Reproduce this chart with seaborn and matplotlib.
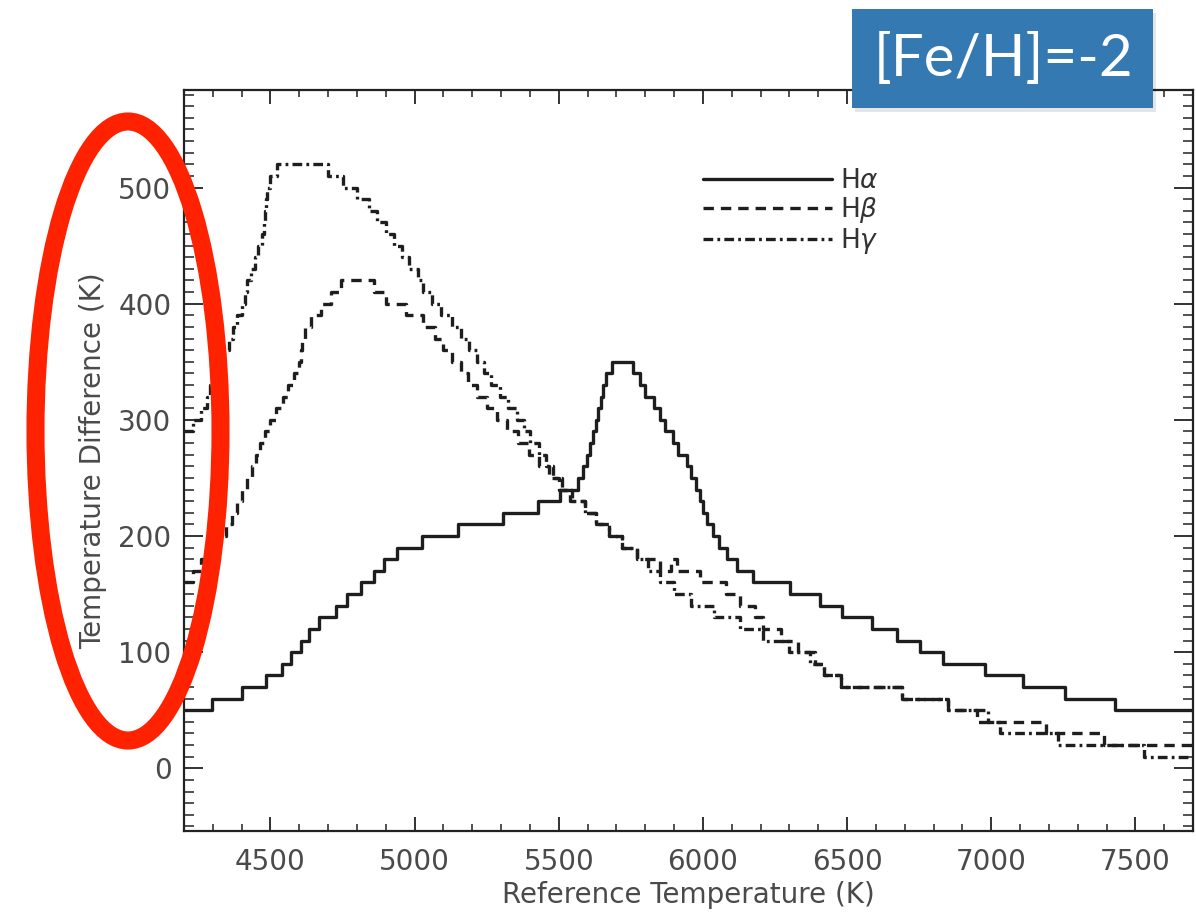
import numpy as np
import pandas as pd
import matplotlib
matplotlib.use("Agg")
import matplotlib.pyplot as plt
import seaborn as sns
from matplotlib.patches import Ellipse, Rectangle
from matplotlib.ticker import MultipleLocator

# ---------------- data ----------------
# H-alpha: step start temperatures (K) and temperature differences (K)
ha_T = [4200, 4297, 4400, 4484, 4540, 4571, 4606, 4635, 4668, 4727, 4766, 4813,
        4859, 4894, 4939, 5026, 5150, 5306, 5428, 5504, 5565, 5585, 5598, 5610,
        5619, 5628, 5636, 5645, 5653, 5665, 5685, 5757, 5782, 5800, 5830, 5851,
        5870, 5896, 5915, 5945, 5960, 5975, 5990, 6000, 6014, 6035, 6055, 6083,
        6118, 6174, 6302, 6406, 6482, 6586, 6673, 6753, 6833, 6978, 7110, 7256,
        7429, 7700]
ha_v = [50, 60, 70, 80, 90, 100, 110, 120, 130, 140, 150, 160,
        170, 180, 190, 200, 210, 220, 230, 240, 250, 260, 270, 280,
        290, 300, 310, 320, 330, 340, 350, 340, 330, 320, 310, 300,
        290, 280, 270, 260, 250, 240, 230, 220, 210, 200, 190, 180,
        170, 160, 150, 140, 130, 120, 110, 100, 90, 80, 70, 60,
        50, 50]

# H-beta
hb_T = [4200, 4230, 4260, 4290, 4320, 4345, 4365, 4385, 4401, 4420, 4435, 4450,
        4465, 4480, 4500, 4520, 4545, 4560, 4580, 4600, 4605, 4610, 4620, 4640,
        4675, 4710, 4744, 4860, 4900, 4970, 5030, 5070, 5100, 5130, 5160, 5185,
        5215, 5250, 5285, 5320, 5360, 5395, 5430, 5465, 5500, 5540, 5590, 5630,
        5675, 5720, 5770, 5850, 5890, 5910, 5990, 6080, 6130, 6180, 6210, 6270,
        6330, 6390, 6420, 6480, 6690, 6850, 6950, 7190, 7390, 7700]
hb_v = [160, 170, 180, 190, 200, 210, 220, 230, 240, 250, 260, 270,
        280, 290, 300, 310, 320, 330, 340, 350, 360, 370, 380, 390,
        400, 410, 420, 410, 400, 390, 380, 370, 360, 350, 340, 330,
        320, 310, 300, 290, 280, 270, 260, 250, 240, 230, 220, 210,
        200, 190, 180, 170, 180, 170, 160, 150, 140, 130, 120, 110,
        100, 90, 80, 70, 60, 50, 40, 30, 20, 20]

# H-gamma
hg_T = [4200, 4230, 4260, 4280, 4290, 4300, 4320, 4335, 4355, 4370, 4385, 4400,
        4410, 4420, 4432, 4445, 4455, 4470, 4478, 4482, 4485, 4488, 4500, 4522,
        4700, 4750, 4800, 4840, 4870, 4900, 4930, 4955, 4980, 5010, 5030, 5060,
        5090, 5130, 5160, 5190, 5215, 5240, 5265, 5295, 5325, 5355, 5380, 5400,
        5430, 5455, 5480, 5510, 5545, 5590, 5630, 5675, 5720, 5770, 5810, 5850,
        5900, 5960, 6040, 6130, 6210, 6300, 6370, 6420, 6480, 6690, 6850, 6990,
        7030, 7230, 7530, 7700]
hg_v = [290, 300, 310, 320, 330, 340, 350, 360, 370, 380, 390, 400,
        410, 420, 430, 440, 450, 460, 470, 480, 490, 500, 510, 520,
        510, 500, 490, 480, 470, 460, 450, 440, 430, 420, 410, 400,
        390, 380, 370, 360, 350, 340, 330, 320, 310, 300, 290, 280,
        270, 260, 250, 240, 230, 220, 210, 200, 190, 180, 170, 160,
        150, 140, 130, 120, 110, 100, 90, 80, 70, 60, 50, 40,
        30, 20, 10, 10]

labels = [r"H$\alpha$", r"H$\beta$", r"H$\gamma$"]
x_ticks = [4500, 5000, 5500, 6000, 6500, 7000, 7500]
y_ticks = [0, 100, 200, 300, 400, 500]
badge_text = "[Fe/H]=-2"

# ---------------- figure ----------------
sns.set_style("white")
plt.rcParams["font.family"] = ["DejaVu Sans"]
plt.rcParams["lines.scale_dashes"] = False

W, H = 1196, 917
fig = plt.figure(figsize=(W / 100, H / 100), dpi=100)
ax = fig.add_axes([184 / W, 1 - 831 / H, (1193 - 184) / W, (831 - 90) / H])

line_color = "#1e1e1e"
styles = ["-", (0, (7.5, 5)), (0, (7, 3, 2, 3))]
series = [(ha_T, ha_v), (hb_T, hb_v), (hg_T, hg_v)]
for (T, v), lab, ls in zip(series, labels, styles):
    df = pd.DataFrame({"T": T, "v": v})
    sns.lineplot(data=df, x="T", y="v", ax=ax, estimator=None, sort=False,
                 drawstyle="steps-post", color=line_color, lw=2.4,
                 linestyle=ls, label=lab)

ax.set_xlim(4200, 7700)
ax.set_ylim(-54, 584)
ax.set_xticks(x_ticks)
ax.set_yticks(y_ticks)
ax.xaxis.set_minor_locator(MultipleLocator(100))
ax.yaxis.set_minor_locator(MultipleLocator(10))

for sp in ax.spines.values():
    sp.set_linewidth(1.6)
    sp.set_color("#222222")

ax.tick_params(axis="x", which="major", direction="in", length=10, width=1.3,
               top=True, bottom=True, labelsize=20, pad=12,
               color="#222222", labelcolor="#4a4a4a")
ax.tick_params(axis="x", which="minor", direction="in", length=5, width=1.1,
               top=True, bottom=True, color="#222222")
ax.tick_params(axis="y", which="major", direction="in", length=14, width=1.3,
               left=True, right=True, labelsize=20, pad=9,
               color="#222222", labelcolor="#4a4a4a")
ax.tick_params(axis="y", which="minor", direction="in", length=7, width=1.1,
               left=True, right=True, color="#222222")

ax.set_xlabel("Reference Temperature (K)", fontsize=20, color="#4a4a4a",
              labelpad=4)
ax.set_ylabel("Temperature Difference (K)", fontsize=20, color="#4a4a4a",
              labelpad=8)

leg = ax.legend(loc="upper left", bbox_to_anchor=(0.514, 0.895), frameon=False,
                fontsize=19, handlelength=4.9, handletextpad=0.3,
                labelspacing=0.05, borderpad=0, borderaxespad=0)
for t in leg.get_texts():
    t.set_color("#333333")
for h in leg.get_lines():
    h.set_linewidth(2.4)

# ---------------- annotations ----------------
shadow = Rectangle(((852 + 3) / W, 1 - (108 + 4) / H), 301 / W, 99 / H,
                   transform=fig.transFigure, facecolor="#000000", alpha=0.10,
                   edgecolor="none", zorder=9)
fig.patches.append(shadow)
box = Rectangle((852 / W, 1 - 108 / H), 301 / W, 99 / H,
                transform=fig.transFigure, facecolor="#3479b1",
                edgecolor="none", zorder=10)
fig.patches.append(box)
fig.text(1004 / W, 1 - 60 / H, badge_text, ha="center", va="center",
         color="white", fontsize=42, family=["Lato", "DejaVu Sans"],
         fontweight="normal", zorder=11)

ell = Ellipse((128 / W, 1 - 431 / H), 185 / W, 619 / H,
              transform=fig.transFigure, facecolor="none",
              edgecolor="#ff2200", linewidth=13, zorder=12)
fig.patches.append(ell)

fig.savefig("out.png", dpi=100)
